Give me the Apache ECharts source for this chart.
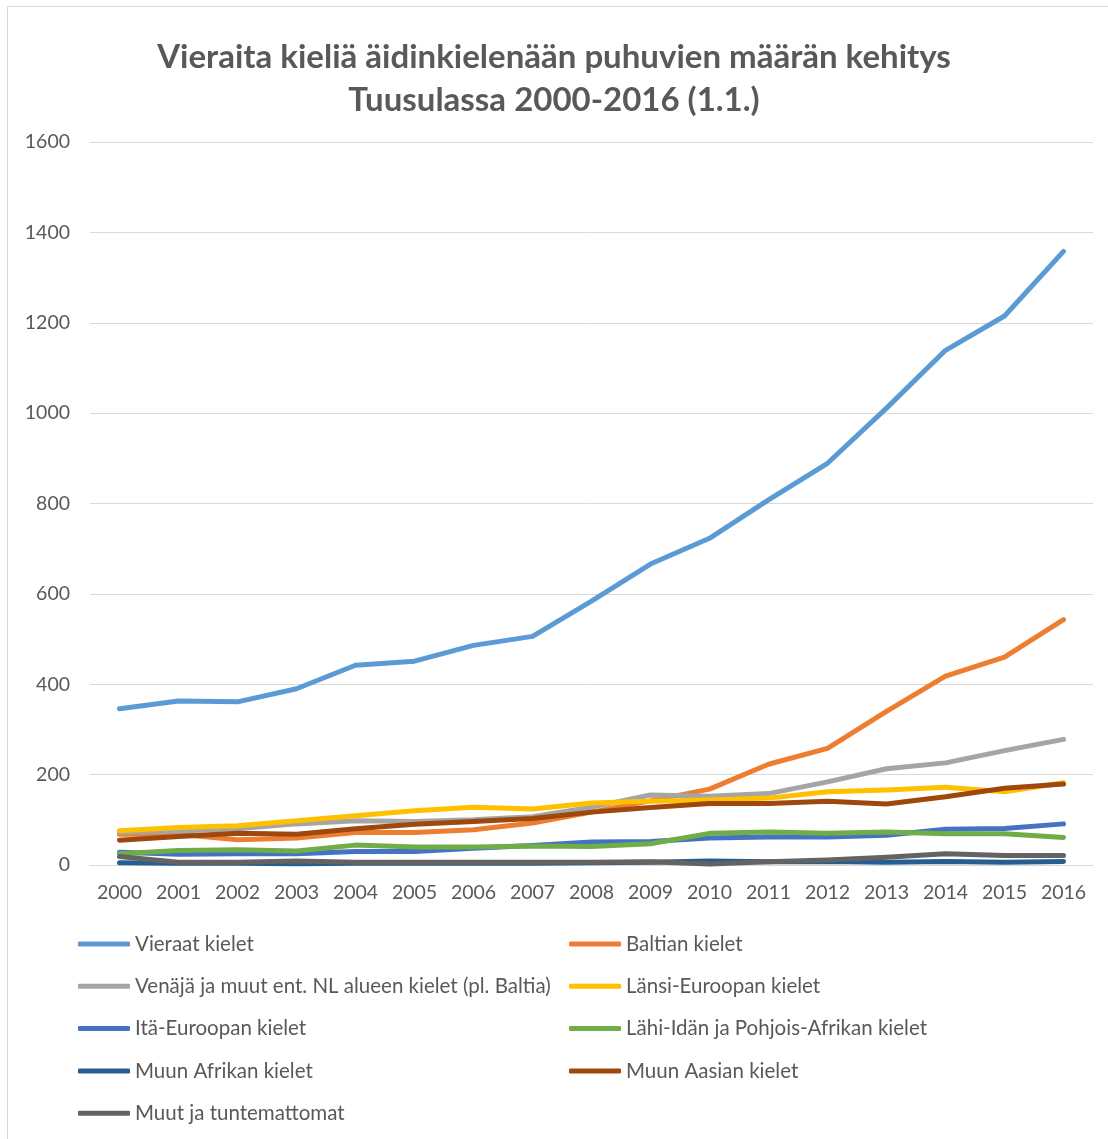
<!DOCTYPE html>
<html>
<head>
<meta charset="utf-8">
<title>Vieraita kieliä äidinkielenään puhuvien määrän kehitys</title>
<script src="https://cdn.jsdelivr.net/npm/echarts@6/dist/echarts.min.js"></script>
<style>
  html, body { margin: 0; padding: 0; background: #fff; }
  #chart { width: 1108px; height: 1139px; }
</style>
</head>
<body>
<div id="chart"></div>
<script>
// vuodet (x-akseli)
var years = ['2000', '2001', '2002', '2003', '2004', '2005', '2006', '2007', '2008',
  '2009', '2010', '2011', '2012', '2013', '2014', '2015', '2016']

// kieliryhmät, arvot luettu kuvasta
var vieraat = [346, 363, 361, 390, 442, 451, 486, 506, 584, 666, 723, 808, 889, 1011, 1139, 1215, 1358]
var baltian = [68, 68, 56, 60, 72, 72, 78, 93, 117, 142, 168, 223, 258, 340, 418, 460, 543]
var venaja = [72, 75, 80, 91, 98, 96, 100, 107, 128, 155, 152, 158, 184, 213, 226, 253, 278]
var lansiEur = [76, 83, 87, 98, 109, 120, 128, 124, 137, 141, 144, 148, 162, 166, 172, 162, 182]
var itaEur = [28, 24, 25, 25, 30, 30, 37, 43, 51, 52, 60, 62, 62, 66, 79, 81, 91]
var lahiIta = [25, 32, 34, 31, 44, 40, 40, 42, 41, 47, 70, 73, 70, 73, 69, 69, 61]
var afrikka = [5, 4, 4, 3, 4, 4, 4, 4, 5, 6, 9, 7, 8, 6, 8, 6, 8]
var aasia = [55, 63, 70, 68, 80, 90, 96, 103, 117, 127, 136, 136, 141, 135, 151, 170, 179]
var muut = [19, 6, 6, 9, 6, 6, 6, 6, 6, 7, 2, 7, 11, 17, 25, 21, 21]

var yTicks = [0, 200, 400, 600, 800, 1000, 1200, 1400, 1600]

var names = [
  'Vieraat kielet',
  'Baltian kielet',
  'Venäjä ja muut ent. NL alueen kielet (pl. Baltia)',
  'Länsi-Euroopan kielet',
  'Itä-Euroopan kielet',
  'Lähi-Idän ja Pohjois-Afrikan kielet',
  'Muun Afrikan kielet',
  'Muun Aasian kielet',
  'Muut ja tuntemattomat'
]
var values = [vieraat, baltian, venaja, lansiEur, itaEur, lahiIta, afrikka, aasia, muut]
var colors = ['#5B9BD5', '#ED7D31', '#A5A5A5', '#FFC000', '#4472C4', '#70AD47', '#255E91', '#9E480E', '#636363']

var font = 'Lato, "Open Sans", sans-serif'
var textGray = '#595959'

var series = names.map(function (n, i) {
  return {
    name: n,
    type: 'line',
    data: values[i],
    symbol: 'none',
    smooth: false,
    lineStyle: { width: 5, color: colors[i], cap: 'round', join: 'round' },
    itemStyle: { color: colors[i] },
    z: 2 + i
  }
})

// legendan sarakkeet: vasen ja oikea
function legendCol(left, data) {
  return {
    orient: 'vertical',
    left: left,
    top: 933,
    padding: 0,
    icon: 'roundRect',
    itemWidth: 52,
    itemHeight: 5,
    itemGap: 20.3,
    data: data,
    textStyle: { fontFamily: font, fontSize: 20.5, color: textGray, lineHeight: 22 }
  }
}

var myChart = echarts.init(document.getElementById('chart'), null, { renderer: 'canvas' })
myChart.setOption({
  backgroundColor: '#fff',
  animation: false,
  color: colors,
  title: {
    text: 'Vieraita kieliä äidinkielenään puhuvien määrän kehitys\nTuusulassa 2000-2016 (1.1.)',
    left: 'center',
    top: 31,
    textStyle: {
      fontFamily: font,
      fontSize: 33,
      fontWeight: 'bold',
      color: textGray,
      lineHeight: 43
    }
  },
  legend: [
    legendCol(78, [names[0], names[2], names[4], names[6], names[8]]),
    legendCol(569, [names[1], names[3], names[5], names[7]])
  ],
  grid: { left: 90, right: 15, top: 142, bottom: 274, containLabel: false },
  xAxis: {
    type: 'category',
    data: years,
    boundaryGap: true,
    axisLine: { lineStyle: { color: '#D9D9D9', width: 1 } },
    axisTick: { show: false },
    axisLabel: { fontFamily: font, fontSize: 19.5, color: textGray, margin: 18, interval: 0 }
  },
  yAxis: {
    type: 'value',
    min: yTicks[0],
    max: yTicks[yTicks.length - 1],
    interval: 200,
    axisLine: { show: false },
    axisTick: { show: false },
    splitLine: { lineStyle: { color: '#D9D9D9', width: 1 } },
    axisLabel: {
      fontFamily: font, fontSize: 19.5, color: textGray, margin: 20,
      formatter: function (v) { return String(v) }
    }
  },
  graphic: [{
    type: 'rect',
    shape: { x: 7.5, y: 6.5, width: 1200, height: 1200 },
    style: { fill: 'none', stroke: '#D9D9D9', lineWidth: 1 },
    silent: true,
    z: -1
  }],
  series: series
})
</script>
</body>
</html>
